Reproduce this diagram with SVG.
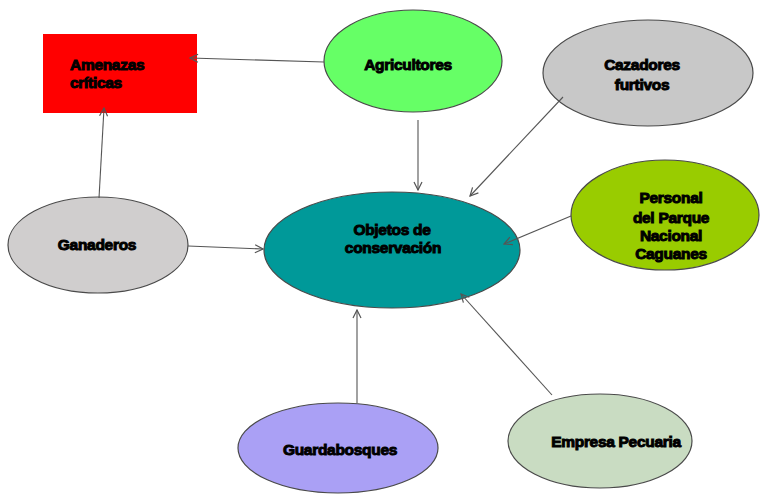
<svg xmlns="http://www.w3.org/2000/svg" width="760" height="494" viewBox="0 0 760 494">
<defs>
<style>
.n{stroke:#4a4a4a;stroke-width:1.2}
.t{font-family:"Liberation Sans",Arial,sans-serif;font-weight:bold;font-size:15.5px;fill:#000;stroke:#000;stroke-width:1;text-anchor:middle;letter-spacing:-0.3px}
.tl{text-anchor:start}
.c{stroke:#555;stroke-width:1.1;fill:none;marker-end:url(#ah)}
</style>
<marker id="ah" viewBox="0 0 10 10" refX="9" refY="5" markerWidth="10" markerHeight="10" markerUnits="userSpaceOnUse" orient="auto">
<path d="M1,1 L9,5 L1,9" fill="none" stroke="#555" stroke-width="1.2"/>
</marker>
</defs>
<rect width="760" height="494" fill="#fff"/>
<g id="amenazas">
<rect x="43" y="34" width="154" height="79" fill="#ff0000"/>
<text class="t tl" x="70" y="70">Amenazas</text>
<text class="t tl" x="70" y="88">críticas</text>
</g>
<g id="agricultores">
<ellipse class="n" cx="413" cy="61" rx="89" ry="51" fill="#66ff66"/>
<text class="t" x="408" y="70">Agricultores</text>
</g>
<g id="cazadores">
<ellipse class="n" cx="648" cy="73" rx="105" ry="53" fill="#c8c8c8"/>
<text class="t" x="642" y="70">Cazadores</text>
<text class="t" x="642" y="90">furtivos</text>
</g>
<g id="ganaderos">
<ellipse class="n" cx="98" cy="245" rx="90" ry="48" fill="#d0cece"/>
<text class="t" x="97" y="250">Ganaderos</text>
</g>
<g id="objetos">
<ellipse class="n" cx="392" cy="250" rx="128" ry="58" fill="#009999"/>
<text class="t" x="392" y="235">Objetos de</text>
<text class="t" x="393" y="253">conservación</text>
</g>
<g id="personal">
<ellipse class="n" cx="665" cy="215" rx="94" ry="55" fill="#99cc00"/>
<text class="t" x="671" y="203">Personal</text>
<text class="t" x="671" y="223">del Parque</text>
<text class="t" x="671" y="241">Nacional</text>
<text class="t" x="671" y="259">Caguanes</text>
</g>
<g id="guardabosques">
<ellipse class="n" cx="338" cy="448" rx="100" ry="45" fill="#aaa0f5"/>
<text class="t" x="340" y="455">Guardabosques</text>
</g>
<g id="empresa">
<ellipse class="n" cx="600" cy="441" rx="92" ry="47" fill="#c9dcc2"/>
<text class="t" x="616" y="447">Empresa Pecuaria</text>
</g>
<g id="connectors">
<line class="c" x1="324" y1="62" x2="190" y2="58"/>
<line class="c" x1="99" y1="198" x2="104" y2="108"/>
<line class="c" x1="418" y1="120" x2="418" y2="190"/>
<line class="c" x1="563" y1="97" x2="470" y2="196"/>
<line class="c" x1="188" y1="246" x2="263" y2="249"/>
<line class="c" x1="571" y1="216" x2="504" y2="244"/>
<line class="c" x1="357" y1="403" x2="357" y2="310"/>
<line class="c" x1="552" y1="395" x2="461" y2="294"/>
</g>
</svg>
